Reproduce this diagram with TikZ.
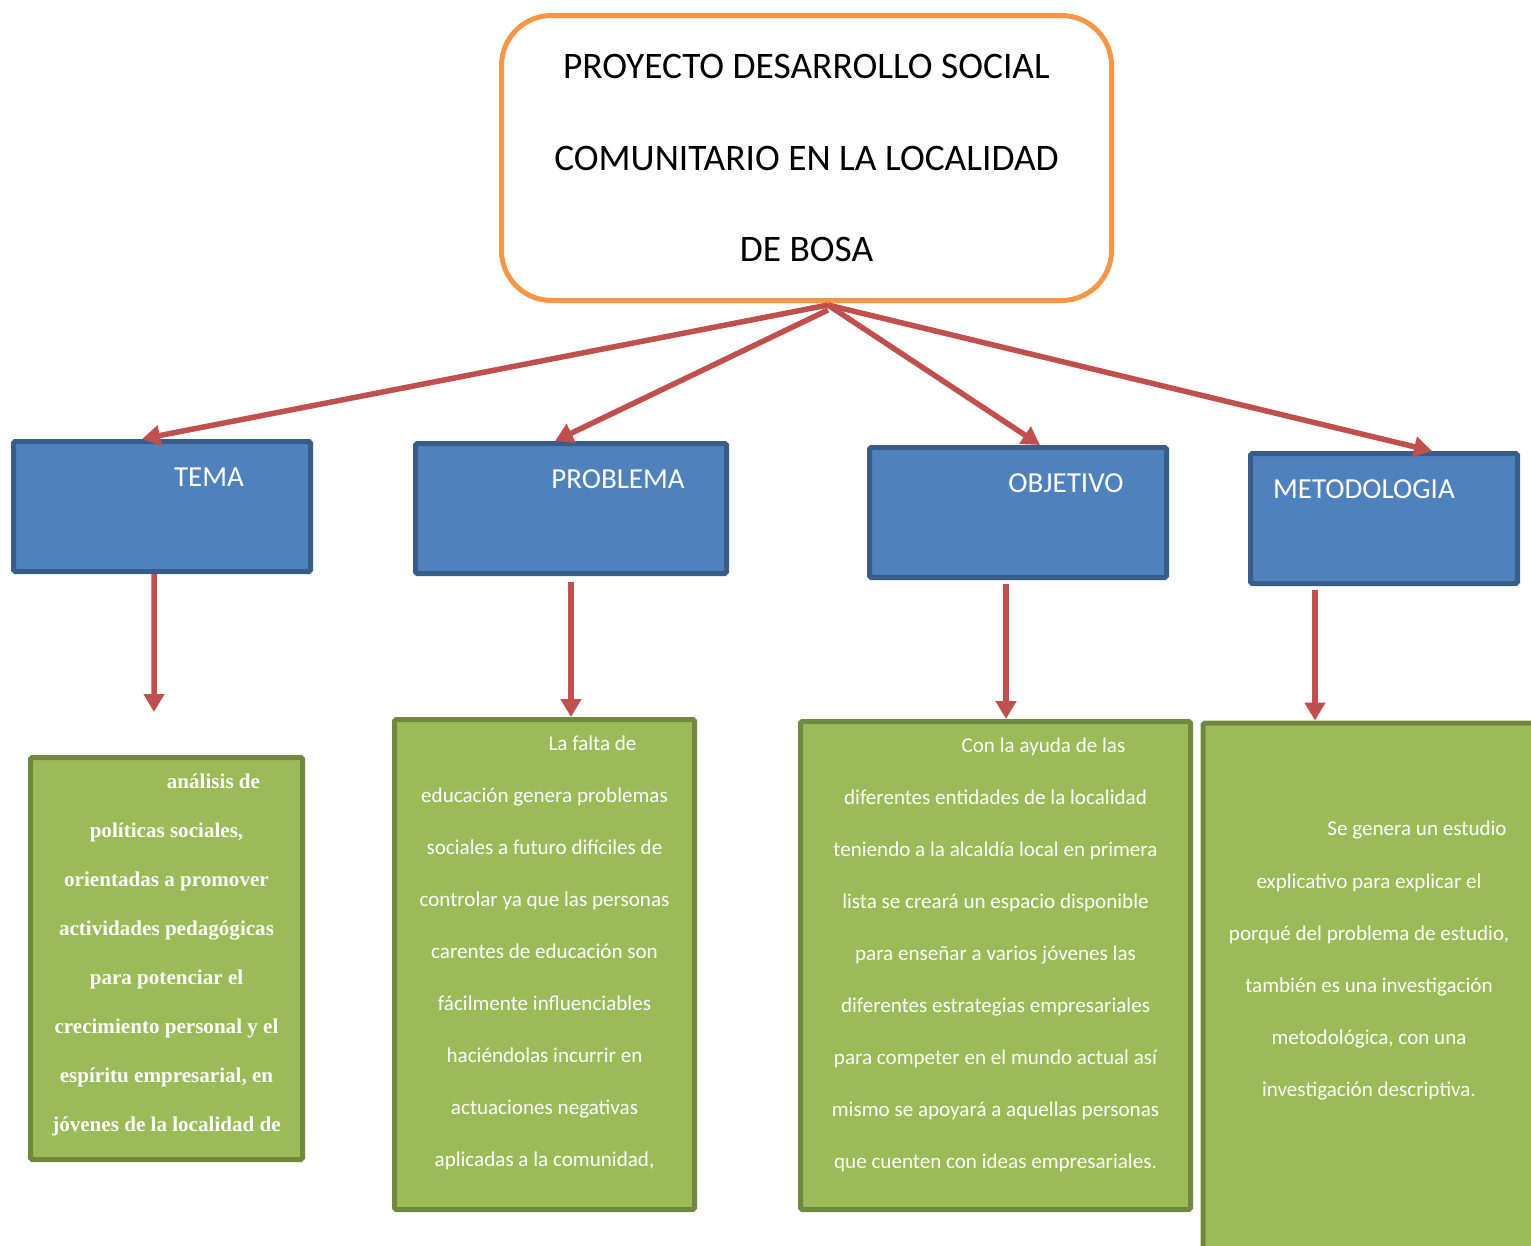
\documentclass[tikz,border=0pt]{standalone}
\usepackage{fontspec}
\setmainfont{Carlito}
\newfontfamily\timesfont{Liberation Serif}
\usetikzlibrary{arrows.meta, calc}
\definecolor{naranja}{HTML}{F79646}
\definecolor{azul}{HTML}{4F81BD}
\definecolor{azulborde}{HTML}{385D8A}
\definecolor{verde}{HTML}{9BBB59}
\definecolor{verdeborde}{HTML}{71893F}
\definecolor{rojo}{HTML}{C0504D}

\begin{document}
\begin{tikzpicture}[
  titulo/.style={draw=naranja,line width=0.1cm,rounded corners=1cm,fill=white,align=center,
    minimum width=12.2cm,minimum height=5.7cm,font=\fontsize{21.3}{52}\selectfont},
  caja/.style={draw=azulborde,fill=azul,line width=0.1cm,rounded corners=1pt,minimum height=2.6cm},
  rotulo/.style={text=white,inner sep=0pt,font=\fontsize{16.5}{20}\selectfont},
  hoja/.style={draw=verdeborde,fill=verde,line width=0.1cm,rounded corners=1pt},
  texto/.style={text=white,align=center,inner sep=0pt,font=\fontsize{12}{29.6}\selectfont},
  flecha/.style={draw=rojo,line width=0.11cm,-{Triangle[length=0.36cm,width=0.4cm]}}]
  \useasboundingbox (0,0) rectangle (30.62,-24.9);
  % titulo
  \node[titulo] (proyecto) at (16.13,-3.16) {PROYECTO DESARROLLO SOCIAL\\COMUNITARIO EN LA LOCALIDAD\\DE BOSA};
  \coordinate (vertice) at (16.56,-6.1);
  % cajas azules
  \path (3.24,-10.13) node[caja,minimum width=5.94cm] (tema) {}
    (11.42,-10.17) node[caja,minimum width=6.22cm] (problema) {}
    (20.36,-10.25) node[caja,minimum width=5.94cm] (objetivo) {}
    (27.68,-10.37) node[caja,minimum width=5.34cm] (metodologia) {};
  \node[rotulo] (temar) at ([xshift=0.94cm,yshift=-0.76cm]tema.north) {TEMA};
  \node[rotulo] (problemar) at ([xshift=0.94cm,yshift=-0.76cm]problema.north) {PROBLEMA};
  \node[rotulo] (objetivor) at ([xshift=0.96cm,yshift=-0.76cm]objetivo.north) {OBJETIVO};
  \node[rotulo] (metodologiar) at ([xshift=-0.4cm,yshift=-0.76cm]metodologia.north) {METODOLOGIA};
  % cajas verdes
  \path (3.33,-19.17) node[hoja,minimum width=5.44cm,minimum height=8.04cm] (temag) {}
    (10.89,-19.29) node[hoja,minimum width=6.0cm,minimum height=9.8cm] (problemag) {}
    (19.91,-19.31) node[hoja,minimum width=7.8cm,minimum height=9.76cm] (objetivog) {}
    (27.38,-19.93) node[hoja,minimum width=6.64cm,minimum height=10.94cm] (metodologiag) {};
  \node[texto,font=\timesfont\bfseries\fontsize{12}{27.9}\selectfont] (temat) at ([yshift=0.08cm]temag.center)
    {\hspace*{1.88cm}análisis de\\políticas sociales,\\orientadas a promover\\actividades pedagógicas\\para potenciar el\\crecimiento personal y el\\espíritu empresarial, en\\jóvenes de la localidad de};
  \node[texto] (problemat) at ([yshift=0.24cm]problemag.center)
    {\hspace*{1.92cm}La falta de\\educación genera problemas\\sociales a futuro difíciles de\\controlar ya que las personas\\carentes de educación son\\fácilmente influenciables\\haciéndolas incurrir en\\actuaciones negativas\\aplicadas a la comunidad,};
  \node[texto] (objetivot) at ([yshift=0.22cm]objetivog.center)
    {\hspace*{1.92cm}Con la ayuda de las\\diferentes entidades de la localidad\\teniendo a la alcaldía local en primera\\lista se creará un espacio disponible\\para enseñar a varios jóvenes las\\diferentes estrategias empresariales\\para competer en el mundo actual así\\mismo se apoyará a aquellas personas\\que cuenten con ideas empresariales.};
  \node[texto] (metodologiat) at (27.38,-19.21)
    {\hspace*{1.92cm}Se genera un estudio\\explicativo para explicar el\\porqué del problema de estudio,\\también es una investigación\\metodológica, con una\\investigación descriptiva.};
  % flechas
  \draw[flecha] (vertice) -- ([xshift=-0.4cm]tema.north);
  \draw[flecha] ([yshift=-0.1cm]vertice) -- ([xshift=-0.32cm]problema.north);
  \draw[flecha] (vertice) -- ([xshift=0.44cm]objetivo.north);
  \draw[flecha] (vertice) -- ([xshift=0.96cm]metodologia.north);
  \coordinate (temafin) at (3.08,-14.24);
  \draw[flecha] ([xshift=-0.16cm]tema.south) -- (temafin);
  \draw[flecha] ([yshift=-0.12cm]problema.south) -- (problema.south |- problemag.north);
  \draw[flecha] ([xshift=-0.24cm,yshift=-0.08cm]objetivo.south) -- ([xshift=-0.24cm]objetivo.south |- objetivog.north);
  \draw[flecha] ([xshift=-1.38cm,yshift=-0.08cm]metodologia.south) -- ([xshift=-1.38cm]metodologia.south |- metodologiag.north);
\end{tikzpicture}
\end{document}
